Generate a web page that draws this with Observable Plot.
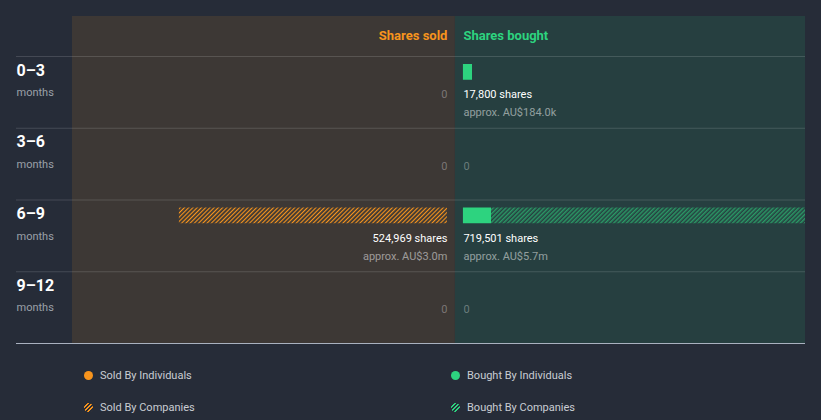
<!DOCTYPE html>
<html><head><meta charset="utf-8">
<script src="https://cdn.jsdelivr.net/npm/d3@7"></script>
<script src="https://cdn.jsdelivr.net/npm/@observablehq/plot@0.6"></script>
<style>
html,body{margin:0;padding:0;background:#262c38;}
#chart{position:relative;width:821px;height:420px;font-family:Roboto,sans-serif;overflow:hidden;}
#chart svg{display:block;}
.legend{position:absolute;left:0;top:344px;width:821px;height:76px;}
.item{position:absolute;height:14px;display:flex;align-items:center;font-size:11px;color:#c9cdd3;white-space:nowrap;}
.sw{width:9px;height:9px;border-radius:50%;margin-right:7.5px;flex:none;}
</style></head><body><div id="chart"></div>
<script>
// ---- data ----
const periods = ["0–3", "3–6", "6–9", "9–12"];
const periodUnit = "months";
const soldIndividuals = [0, 0, 0, 0];
const soldCompanies = [0, 0, 524969, 0];
const boughtIndividuals = [17800, 0, 55000, 0];
const boughtCompanies = [0, 0, 664501, 0];
const soldValue = ["", "", "AU$3.0m", ""];
const boughtValue = ["AU$184.0k", "", "AU$5.7m", ""];
const headers = ["Shares sold", "Shares bought"];
const legendLabels = ["Sold By Individuals", "Bought By Individuals", "Sold By Companies", "Bought By Companies"];
const xDomain = [-750000, 670000];

// ---- style ----
const ORANGE = "#f7941d";
const GREEN = "#2dd37f";
const fmt = d3.format(",");

const rows = periods.map((p, i) => ({
  i, period: p,
  si: soldIndividuals[i], sc: soldCompanies[i],
  bi: boughtIndividuals[i], bc: boughtCompanies[i],
  soldTotal: soldIndividuals[i] + soldCompanies[i],
  boughtTotal: boughtIndividuals[i] + boughtCompanies[i],
  soldValue: soldValue[i], boughtValue: boughtValue[i]
}));

const segs = [];
rows.forEach(r => {
  if (r.si) segs.push({i: r.i, side: "sold", kind: "ind", x1: -r.si, x2: 0});
  if (r.sc) segs.push({i: r.i, side: "sold", kind: "co", x1: -(r.si + r.sc), x2: -r.si});
  if (r.bi) segs.push({i: r.i, side: "bought", kind: "ind", x1: 0, x2: r.bi});
  if (r.bc) segs.push({i: r.i, side: "bought", kind: "co", x1: r.bi, x2: r.bi + r.bc});
});
const soldSegs = segs.filter(d => d.side === "sold");
const boughtSegs = segs.filter(d => d.side === "bought");
const fillOf = d => d.side === "sold"
  ? (d.kind === "ind" ? ORANGE : "url(#hatch-sold)")
  : (d.kind === "ind" ? GREEN : "url(#hatch-bought)");

const svg = Plot.plot({
  width: 821, height: 344,
  marginLeft: 80, marginRight: 16, marginTop: 56, marginBottom: 1,
  x: {domain: xDomain, axis: null},
  y: {domain: [0, periods.length], reverse: true, axis: null},
  style: {background: "transparent", fontFamily: "Roboto, sans-serif", overflow: "visible"},
  marks: [
    // panels
    Plot.rect([0], {x1: xDomain[0], x2: 0, y1: 0, y2: periods.length, insetLeft: -8, insetRight: 8, insetTop: -40, fill: "#3d3835"}),
    Plot.rect([0], {x1: 0, x2: xDomain[1], y1: 0, y2: periods.length, insetLeft: -8, insetTop: -40, fill: "#263f40"}),
    // grid lines
    Plot.ruleY(d3.range(periods.length), {y: d => d, insetLeft: -64, stroke: "#ffffff", strokeOpacity: 0.14}),
    Plot.ruleY([periods.length], {y: d => d, insetLeft: -64, stroke: "#a9b1bf", strokeWidth: 1.2}),
    // bars
    Plot.rect(soldSegs, {x1: "x1", x2: "x2", y1: "i", y2: d => d.i + 1, insetTop: 8, insetBottom: 48, dx: -16, fill: fillOf}),
    Plot.rect(boughtSegs, {x1: "x1", x2: "x2", y1: "i", y2: d => d.i + 1, insetTop: 8, insetBottom: 48, fill: fillOf, clip: true}),
    // headers
    Plot.text([headers[0]], {x: 0, y: 0, dx: -16, dy: -21, text: d => d, textAnchor: "end", fill: ORANGE, fontSize: 13, fontWeight: "bold"}),
    Plot.text([headers[1]], {x: 0, y: 0, dy: -21, text: d => d, textAnchor: "start", fill: GREEN, fontSize: 13, fontWeight: "bold"}),
    // row labels
    Plot.text(rows, {y: "i", frameAnchor: "left", dx: -64, dy: 14, text: "period", textAnchor: "start", fill: "#ffffff", fontSize: 16, fontWeight: "bold"}),
    Plot.text(rows, {y: "i", frameAnchor: "left", dx: -64, dy: 36, text: () => periodUnit, textAnchor: "start", fill: "#9ba0a8", fontSize: 11}),
    // sold totals
    Plot.text(rows.filter(r => !r.soldTotal), {x: 0, y: "i", dx: -16, dy: 38, text: () => "0", textAnchor: "end", fill: "#ffffff", fillOpacity: 0.33, fontSize: 11}),
    Plot.text(rows.filter(r => r.soldTotal), {x: 0, y: "i", dx: -16, dy: 38, text: r => `${fmt(r.soldTotal)} shares`, textAnchor: "end", fill: "#ffffff", fontSize: 11}),
    Plot.text(rows.filter(r => r.soldTotal), {x: 0, y: "i", dx: -16, dy: 56, text: r => `approx. ${r.soldValue}`, textAnchor: "end", fill: "#ffffff", fillOpacity: 0.5, fontSize: 11}),
    // bought totals
    Plot.text(rows.filter(r => !r.boughtTotal), {x: 0, y: "i", dy: 38, text: () => "0", textAnchor: "start", fill: "#ffffff", fillOpacity: 0.33, fontSize: 11}),
    Plot.text(rows.filter(r => r.boughtTotal), {x: 0, y: "i", dy: 38, text: r => `${fmt(r.boughtTotal)} shares`, textAnchor: "start", fill: "#ffffff", fontSize: 11}),
    Plot.text(rows.filter(r => r.boughtTotal), {x: 0, y: "i", dy: 56, text: r => `approx. ${r.boughtValue}`, textAnchor: "start", fill: "#ffffff", fillOpacity: 0.5, fontSize: 11})
  ]
});

// hatch patterns
const defs = d3.select(svg).insert("defs", ":first-child");
const p1 = defs.append("pattern").attr("id", "hatch-sold").attr("patternUnits", "userSpaceOnUse")
  .attr("width", 3).attr("height", 3).attr("patternTransform", "rotate(45)");
p1.append("rect").attr("width", 1.1).attr("height", 3).attr("fill", ORANGE);
const p2 = defs.append("pattern").attr("id", "hatch-bought").attr("patternUnits", "userSpaceOnUse")
  .attr("width", 3).attr("height", 3).attr("patternTransform", "rotate(45)");
p2.append("rect").attr("width", 1.5).attr("height", 3).attr("fill", GREEN).attr("fill-opacity", 0.6);

const chart = document.getElementById("chart");
chart.appendChild(svg);

// legend
const legend = document.createElement("div");
legend.className = "legend";
const swatches = [
  `background:${ORANGE}`,
  `background:${GREEN}`,
  `background:repeating-linear-gradient(135deg, ${ORANGE} 0 1.4px, transparent 1.4px 2.8px)`,
  `background:repeating-linear-gradient(135deg, ${GREEN} 0 1.4px, transparent 1.4px 2.8px)`
];
const pos = [[83.5, 24], [450.5, 24], [83.5, 56], [450.5, 56]];
legendLabels.forEach((lab, k) => {
  const it = document.createElement("div");
  it.className = "item";
  it.style.left = pos[k][0] + "px";
  it.style.top = pos[k][1] + "px";
  it.innerHTML = `<span class="sw" style="${swatches[k]}"></span><span>${lab}</span>`;
  legend.appendChild(it);
});
chart.appendChild(legend);
</script></body></html>
